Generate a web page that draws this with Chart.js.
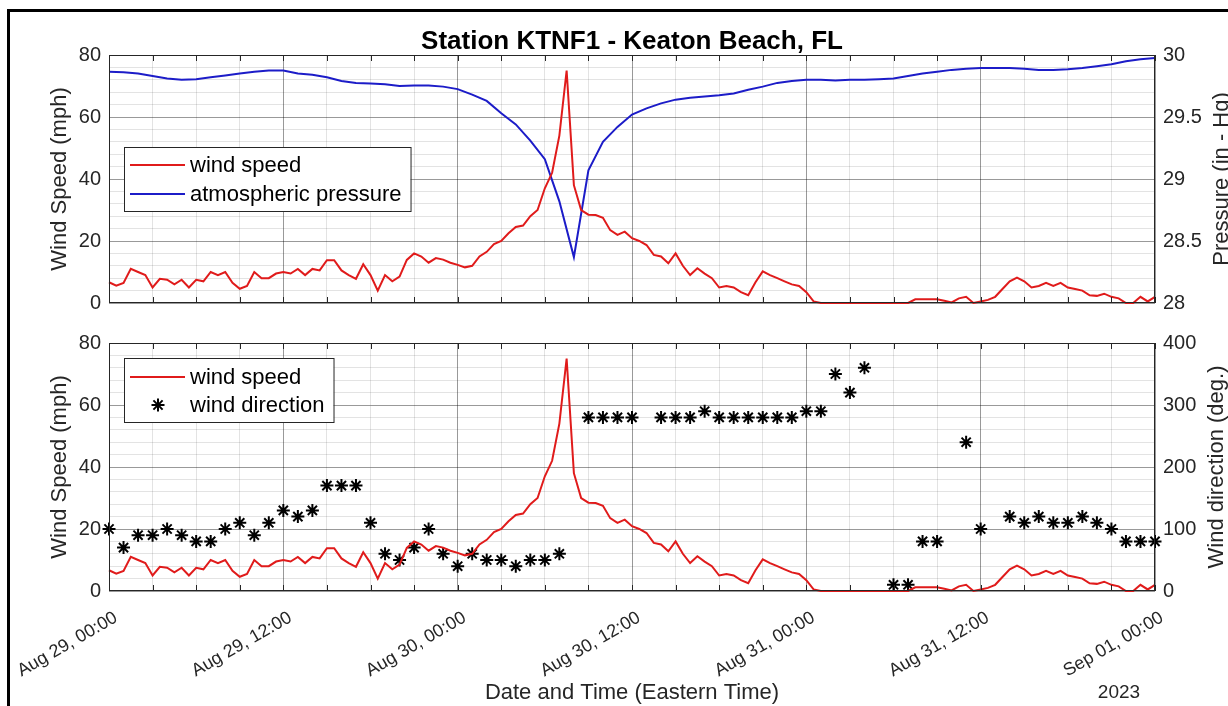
<!DOCTYPE html>
<html>
<head>
<meta charset="utf-8">
<script src="https://cdn.jsdelivr.net/npm/chart.js@4.4.1/dist/chart.umd.min.js"></script>
<style>
html,body{margin:0;padding:0;background:#fff;overflow:hidden;}
#wrap{position:relative;width:1228px;height:706px;}
canvas{position:absolute;left:0;top:0;}
</style>
</head>
<body>
<div id="wrap">
<canvas id="c2" width="1228" height="706"></canvas>
<canvas id="c1" width="1228" height="706"></canvas>
</div>
<script>
// ---------------- data ----------------
const chartTitle = 'Station KTNF1 - Keaton Beach, FL';
const xTickLabels = ['Aug 29, 00:00','Aug 29, 12:00','Aug 30, 00:00','Aug 30, 12:00','Aug 31, 00:00','Aug 31, 12:00','Sep 01, 00:00'];
const xAxisTitle = 'Date and Time (Eastern Time)';
const yearLabel = '2023';
const speedTickLabels = ['0','20','40','60','80'];
const pressureTickLabels = ['28','28.5','29','29.5','30'];
const directionTickLabels = ['0','100','200','300','400'];
const speedAxisTitle = 'Wind Speed (mph)';
const pressureAxisTitle = 'Pressure (in - Hg)';
const directionAxisTitle = 'Wind direction (deg.)';
const seriesLabels = {speed: 'wind speed', pressure: 'atmospheric pressure', direction: 'wind direction'};

// hours since Aug 29 00:00 between samples
const windStepHours = 0.5;
const windSpeed = [
  6.7, 5.6, 6.5, 11, 10, 9, 5, 7.8, 7.5, 6,
  7.5, 5, 7.5, 7, 10, 9, 10, 6.5, 4.6, 5.5,
  10, 8, 8, 9.5, 10, 9.5, 11, 9, 11, 10.5,
  13.8, 13.8, 10.5, 9, 7.8, 12.5, 9, 4, 9, 7,
  8.5, 13.9, 16, 15, 13, 14.5, 14, 13, 12.3, 11.5,
  12, 15, 16.5, 19, 20, 22.5, 24.5, 25, 28, 30,
  37, 42, 54, 75, 38, 30, 28.5, 28.4, 27.5, 23.5,
  22, 23, 20.9, 20, 18.7, 15.5, 15, 12.8, 16, 12,
  9, 11.2, 9.5, 8, 5, 5.5, 5, 3.5, 2.5, 6.7,
  10.2, 9, 8, 7, 6, 5.5, 3.5, 0.5, 0, 0,
  0, 0, 0, 0, 0, 0, 0, 0, 0, 0,
  0, 1.2, 1.2, 1.2, 1.2, 0.7, 0.2, 1.5, 2, 0,
  0.5, 1, 2, 4.5, 7, 8.2, 7, 5, 5.5, 6.5,
  5.5, 6.5, 5, 4.5, 4, 2.5, 2.3, 3, 2, 1.5,
  0, 0, 2, 0.5, 2
];
const pressureStepHours = 1;
const pressure = [
  29.865, 29.86, 29.85, 29.83, 29.81, 29.80, 29.805, 29.82, 29.835, 29.85,
  29.865, 29.875, 29.875, 29.85, 29.84, 29.82, 29.79, 29.775, 29.77, 29.765,
  29.75, 29.755, 29.755, 29.745, 29.725, 29.68, 29.63, 29.53, 29.44, 29.31,
  29.16, 28.82, 28.37, 29.07, 29.30, 29.42, 29.52, 29.57, 29.61, 29.64,
  29.655, 29.665, 29.675, 29.69, 29.72, 29.745, 29.775, 29.79, 29.80, 29.80,
  29.795, 29.80, 29.80, 29.805, 29.81, 29.83, 29.85, 29.865, 29.88, 29.89,
  29.895, 29.895, 29.895, 29.89, 29.88, 29.88, 29.885, 29.895, 29.91, 29.925,
  29.95, 29.965, 29.975
];
const directionStepHours = 1;
const windDirection = [
  100, 70, 90, 90, 100, 90, 80, 80, 100, 110,
  90, 110, 130, 120, 130, 170, 170, 170, 110, 60,
  50, 70, 100, 60, 40, 60, 50, 50, 40, 50,
  50, 60, null, 280, 280, 280, 280, null, 280, 280,
  280, 290, 280, 280, 280, 280, 280, 280, 290, 290,
  350, 320, 360, null, 10, 10, 80, 80, null, 240,
  100, null, 120, 110, 120, 110, 110, 120, 110, 100,
  80, 80, 80
];

// ---------------- helpers ----------------
function pts(values, step) { return values.map((v, i) => ({x: i * step, y: v})); }
const FONT = "'Liberation Sans', Arial, Helvetica, sans-serif";
const TXT = '#262626';
const MAJOR = 'rgba(0,0,0,0.40)';
const MINOR = 'rgba(0,0,0,0.11)';
const RED = '#e01b1b';
const BLUE = '#1c1cc8';
const isMult = (v, m) => Math.abs(v / m - Math.round(v / m)) < 1e-6;

function xScale(showLabels, height) {
  return {
    type: 'linear', min: 0, max: 72,
    afterFit: s => { s.height = height; s.paddingLeft = 0; s.paddingRight = 0; },
    grid: { drawTicks: false, lineWidth: 1, color: c => (c.tick && isMult(c.tick.value, 12)) ? MAJOR : MINOR },
    border: { display: false },
    ticks: {
      display: showLabels, stepSize: 3, autoSkip: false, minRotation: 30, maxRotation: 30, padding: 16, labelOffset: 7,
      color: TXT, font: {family: FONT, size: 18},
      callback: v => isMult(v, 12) ? xTickLabels[Math.round(v / 12)] : ''
    },
    title: showLabels ? {display: true, text: xAxisTitle, color: TXT, font: {family: FONT, size: 22}, padding: {top: 0, bottom: 0}} : {display: false}
  };
}
function leftScale(max, step, major, labels, title) {
  return {
    type: 'linear', position: 'left', min: 0, max: max,
    afterFit: s => { s.width = 109; s.paddingTop = 0; s.paddingBottom = 0; },
    grid: { drawTicks: false, lineWidth: 1, color: c => (c.tick && isMult(c.tick.value, major)) ? MAJOR : MINOR },
    border: { display: false },
    ticks: { stepSize: step, autoSkip: false, padding: 8, color: TXT, font: {family: FONT, size: 20},
      callback: v => isMult(v, major) ? labels[Math.round(v / major)] : '' },
    title: {display: true, text: title, color: TXT, font: {family: FONT, size: 22}, padding: {top: 47, bottom: 0}}
  };
}
function rightScale(min, max, step, major, labels) {
  return {
    type: 'linear', position: 'right', min: min, max: max,
    afterFit: s => { s.width = 73; s.paddingTop = 0; s.paddingBottom = 0; },
    grid: { display: false, drawTicks: false },
    border: { display: false },
    ticks: { stepSize: step, autoSkip: false, padding: 8, color: TXT, font: {family: FONT, size: 20},
      callback: v => isMult(v - min, major) ? labels[Math.round((v - min) / major)] : '' }
  };
}

// axes box + inward x ticks
const axesBox = {
  id: 'axesBox',
  afterDatasetsDraw(chart) {
    const {ctx, chartArea: a, scales} = chart;
    ctx.save();
    ctx.strokeStyle = TXT; ctx.lineWidth = 1;
    ctx.strokeRect(a.left + 0.5, a.top + 0.5, a.right - a.left - 1, a.bottom - a.top - 1);
    ctx.beginPath();
    scales.x.ticks.forEach(t => {
      const px = Math.round(scales.x.getPixelForValue(t.value)) + 0.5;
      ctx.moveTo(px, a.top); ctx.lineTo(px, a.top + 6);
      ctx.moveTo(px, a.bottom); ctx.lineTo(px, a.bottom - 6);
    });
    ctx.stroke();
    ctx.restore();
  }
};

// legend drawn inside the plot area
const insideLegend = {
  id: 'insideLegend',
  afterDatasetsDraw(chart, args, o) {
    const {ctx, chartArea: a} = chart;
    ctx.save();
    ctx.font = o.font;
    const ds = chart.data.datasets;
    let maxW = 0;
    ds.forEach(d => { maxW = Math.max(maxW, ctx.measureText(d.label).width); });
    const x0 = a.left + o.dx, y0 = a.top + o.dy;
    const w = o.textX + maxW + o.padRight;
    ctx.fillStyle = '#fff';
    ctx.fillRect(x0, y0, w, o.height);
    ctx.strokeStyle = o.borderColor; ctx.lineWidth = 1;
    ctx.strokeRect(x0 + 0.5, y0 + 0.5, w, o.height);
    ds.forEach((d, i) => {
      const cy = y0 + o.rowY[i];
      ctx.strokeStyle = d.borderColor;
      if (d.showLine === false) {
        ctx.lineWidth = d.pointBorderWidth;
        const r = d.pointRadius, cx = x0 + o.markerX, k = Math.cos(Math.PI / 4) * r;
        ctx.beginPath();
        ctx.moveTo(cx - r, cy); ctx.lineTo(cx + r, cy);
        ctx.moveTo(cx, cy - r); ctx.lineTo(cx, cy + r);
        ctx.moveTo(cx - k, cy - k); ctx.lineTo(cx + k, cy + k);
        ctx.moveTo(cx - k, cy + k); ctx.lineTo(cx + k, cy - k);
        ctx.stroke();
      } else {
        ctx.lineWidth = d.borderWidth;
        ctx.beginPath();
        ctx.moveTo(x0 + o.lineX0, cy); ctx.lineTo(x0 + o.lineX1, cy);
        ctx.stroke();
      }
      ctx.fillStyle = '#000'; ctx.textAlign = 'left'; ctx.textBaseline = 'middle';
      ctx.fillText(d.label, x0 + o.textX, cy + 1);
    });
    ctx.restore();
  }
};

// free texts (title, right-axis titles, year, frame)
const freeTexts = {
  id: 'freeTexts',
  afterDraw(chart, args, o) {
    const {ctx, chartArea: a} = chart;
    ctx.save();
    if (o.frame) {
      ctx.strokeStyle = '#000'; ctx.lineWidth = 3;
      ctx.strokeRect(8.5, 10.5, 1400, 900);
    }
    (o.items || []).forEach(t => {
      ctx.save();
      ctx.font = t.font; ctx.fillStyle = t.color; ctx.textAlign = 'center'; ctx.textBaseline = 'alphabetic';
      const x = t.ref === 'right' ? a.right + t.dx : (t.ref === 'center' ? (a.left + a.right) / 2 + t.dx : a.left + t.dx);
      const y = t.vref === 'middle' ? (a.top + a.bottom) / 2 + t.dy : (t.vref === 'bottom' ? a.bottom + t.dy : a.top + t.dy);
      ctx.translate(x, y);
      if (t.rot) ctx.rotate(t.rot);
      ctx.fillText(t.text, 0, 0);
      ctx.restore();
    });
    ctx.restore();
  }
};

const common = {
  responsive: false, animation: false, devicePixelRatio: 1, events: [],
};

// ---------------- top chart ----------------
new Chart(document.getElementById('c1'), {
  type: 'line',
  data: {
    datasets: [
      { label: seriesLabels.speed, data: pts(windSpeed, windStepHours), yAxisID: 'y', borderColor: RED, borderWidth: 2, pointRadius: 0, tension: 0, fill: false, clip: false },
      { label: seriesLabels.pressure, data: pts(pressure, pressureStepHours), yAxisID: 'y1', borderColor: BLUE, borderWidth: 2, pointRadius: 0, tension: 0, fill: false, clip: false }
    ]
  },
  options: Object.assign({}, common, {
    layout: { autoPadding: false, padding: {top: 55, left: 0, right: 0, bottom: 0} },
    scales: {
      x: xScale(false, 403),
      y: leftScale(80, 4, 20, speedTickLabels, speedAxisTitle),
      y1: rightScale(28, 30, 0.1, 0.5, pressureTickLabels)
    },
    plugins: {
      legend: {display: false}, tooltip: {enabled: false}, title: {display: false},
      insideLegend: { dx: 15, dy: 92, height: 64, rowY: [18, 47], lineX0: 6, lineX1: 61, markerX: 34, textX: 66, padRight: 9,
        font: "22px " + FONT, borderColor: '#262626' },
      freeTexts: { frame: true, items: [
        { text: chartTitle, font: "bold 26px " + FONT, color: '#000', ref: 'center', dx: 0, vref: 'top', dy: -6 },
        { text: pressureAxisTitle, font: "22px " + FONT, color: TXT, ref: 'right', dx: 73, vref: 'middle', dy: 0, rot: -Math.PI / 2 }
      ]}
    }
  }),
  plugins: [axesBox, insideLegend, freeTexts]
});

// ---------------- bottom chart ----------------
new Chart(document.getElementById('c2'), {
  type: 'line',
  data: {
    datasets: [
      { label: seriesLabels.speed, data: pts(windSpeed, windStepHours), yAxisID: 'y', borderColor: RED, borderWidth: 2, pointRadius: 0, tension: 0, fill: false, clip: false },
      { label: seriesLabels.direction, data: pts(windDirection, directionStepHours), yAxisID: 'y1', showLine: false, borderColor: '#000', backgroundColor: '#000',
        pointStyle: 'star', pointRadius: 6.5, pointBorderWidth: 2, pointBorderColor: '#000', spanGaps: false, clip: false }
    ]
  },
  options: Object.assign({}, common, {
    layout: { autoPadding: false, padding: {top: 343, left: 0, right: 0, bottom: 0} },
    scales: {
      x: xScale(true, 115),
      y: leftScale(80, 4, 20, speedTickLabels, speedAxisTitle),
      y1: rightScale(0, 400, 20, 100, directionTickLabels)
    },
    plugins: {
      legend: {display: false}, tooltip: {enabled: false}, title: {display: false},
      insideLegend: { dx: 15, dy: 15, height: 64, rowY: [19, 47], lineX0: 6, lineX1: 61, markerX: 34, textX: 66, padRight: 9,
        font: "22px " + FONT, borderColor: '#262626' },
      freeTexts: { frame: false, items: [
        { text: directionAxisTitle, font: "22px " + FONT, color: TXT, ref: 'right', dx: 68, vref: 'middle', dy: 0, rot: -Math.PI / 2 },
        { text: yearLabel, font: "19px " + FONT, color: TXT, ref: 'right', dx: -36, vref: 'bottom', dy: 107 }
      ]}
    }
  }),
  plugins: [axesBox, insideLegend, freeTexts]
});
</script>
</body>
</html>
